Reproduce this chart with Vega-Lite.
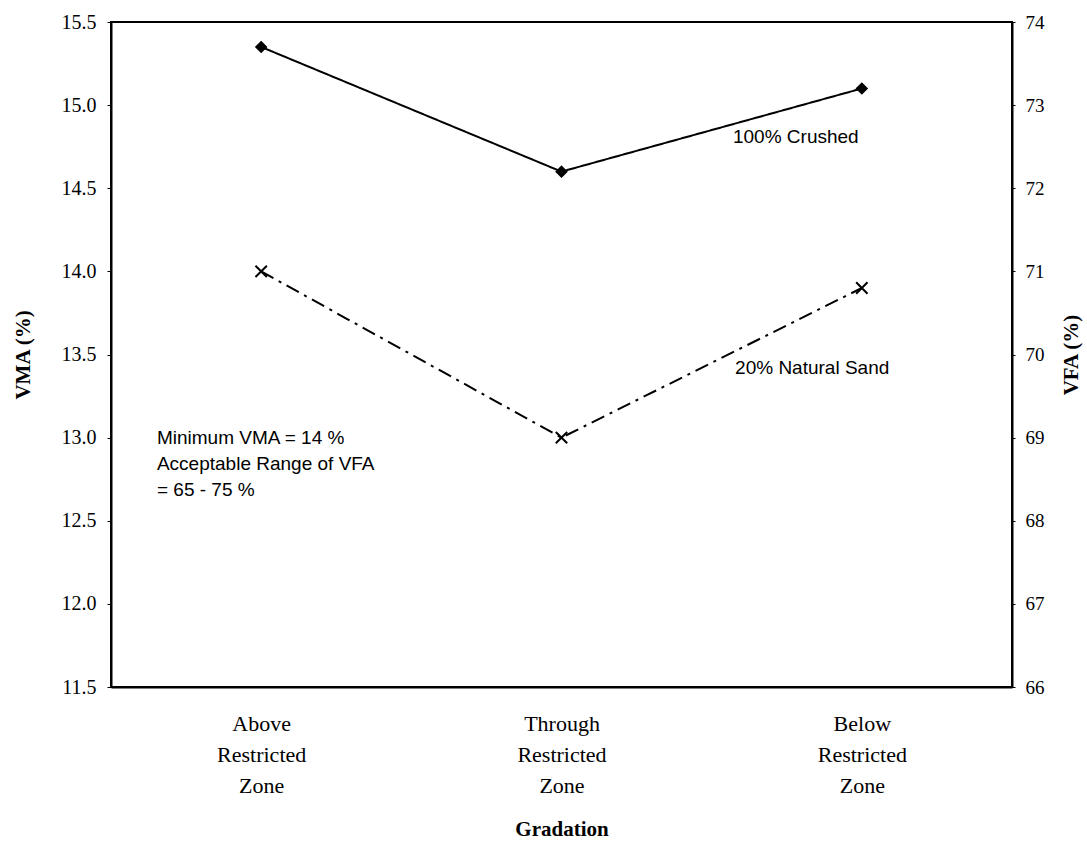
{
  "$schema": "https://vega.github.io/schema/vega-lite/v6.json",
  "width": 901,
  "height": 665,
  "autosize": {"type": "none"},
  "padding": {"left": 111, "top": 22, "right": 75, "bottom": 161},
  "background": "white",
  "config": {
    "view": {"stroke": "black", "strokeWidth": 2},
    "axis": {"grid": false, "domainColor": "black", "domainWidth": 2, "tickColor": "black", "labelColor": "black", "titleColor": "black"}
  },
  "datasets": {
    "series": [
      {"gradation": "Above Restricted Zone", "pos": 1, "series": "100% Crushed", "vma": 15.35},
      {"gradation": "Through Restricted Zone", "pos": 2, "series": "100% Crushed", "vma": 14.6},
      {"gradation": "Below Restricted Zone", "pos": 3, "series": "100% Crushed", "vma": 15.1},
      {"gradation": "Above Restricted Zone", "pos": 1, "series": "20% Natural Sand", "vma": 14.0},
      {"gradation": "Through Restricted Zone", "pos": 2, "series": "20% Natural Sand", "vma": 13.0},
      {"gradation": "Below Restricted Zone", "pos": 3, "series": "20% Natural Sand", "vma": 13.9}
    ],
    "notes": [
      {"label": "100% Crushed", "nx": 2.571, "ny": 14.81},
      {"label": "20% Natural Sand", "nx": 2.578, "ny": 13.42},
      {"label": "Minimum VMA = 14 %\nAcceptable Range of VFA\n= 65 - 75 %", "nx": 0.653, "ny": 13.0}
    ]
  },
  "data": {"name": "series"},
  "layer": [
    {
      "layer": [
        {
          "mark": {"type": "line", "color": "black", "strokeWidth": 2},
          "encoding": {
            "x": {"field": "pos", "type": "quantitative", "scale": {"domain": [0.5, 3.5], "nice": false, "zero": false},
              "axis": {"values": [1, 2, 3], "labelExpr": "datum.value == 1 ? ['Above','Restricted','Zone'] : datum.value == 2 ? ['Through','Restricted','Zone'] : ['Below','Restricted','Zone']",
                "labelFont": "Liberation Serif", "labelFontSize": 22, "labelLineHeight": 31, "tickSize": 0, "labelPadding": 26, "labelBaseline": "top",
                "title": "Gradation", "titleFont": "Liberation Serif", "titleFontSize": 21, "titleFontWeight": "bold", "titlePadding": 22}},
            "y": {"field": "vma", "type": "quantitative", "scale": {"domain": [11.5, 15.5], "nice": false, "zero": false},
              "axis": {"values": [11.5, 12, 12.5, 13, 13.5, 14, 14.5, 15, 15.5], "format": ".1f", "labelFont": "Liberation Serif", "labelFontSize": 20,
                "tickSize": 4, "labelPadding": 11, "title": "VMA (%)", "titleFont": "Liberation Serif", "titleFontSize": 21, "titleFontWeight": "bold", "titlePadding": 28}},
            "strokeDash": {"field": "series", "type": "nominal", "scale": {"domain": ["100% Crushed", "20% Natural Sand"], "range": [[1, 0], [14, 6, 3, 6]]}, "legend": null}
          }
        },
        {
          "mark": {"type": "point", "stroke": "black", "strokeWidth": 2, "opacity": 1, "fillOpacity": 1},
          "encoding": {
            "x": {"field": "pos", "type": "quantitative"},
            "y": {"field": "vma", "type": "quantitative"},
            "shape": {"field": "series", "type": "nominal", "scale": {"domain": ["100% Crushed", "20% Natural Sand"], "range": ["diamond", "M-1,-1L1,1M1,-1L-1,1"]}, "legend": null},
            "fill": {"field": "series", "type": "nominal", "scale": {"domain": ["100% Crushed", "20% Natural Sand"], "range": ["black", "transparent"]}, "legend": null},
            "size": {"field": "series", "type": "nominal", "scale": {"domain": ["100% Crushed", "20% Natural Sand"], "range": [95, 130]}, "legend": null}
          }
        },
        {
          "data": {"name": "notes"},
          "mark": {"type": "text", "align": "left", "baseline": "middle", "font": "Liberation Sans", "fontSize": 19, "lineBreak": "\n", "lineHeight": 26, "color": "black"},
          "encoding": {
            "x": {"field": "nx", "type": "quantitative"},
            "y": {"field": "ny", "type": "quantitative"},
            "text": {"field": "label"}
          }
        }
      ]
    },
    {
      "mark": {"type": "point", "opacity": 0},
      "encoding": {
        "y": {"datum": 70, "type": "quantitative", "scale": {"domain": [66, 74], "nice": false, "zero": false},
          "axis": {"orient": "right", "values": [66, 67, 68, 69, 70, 71, 72, 73, 74], "labelFont": "Liberation Serif", "labelFontSize": 19,
            "tickSize": 3, "labelPadding": 10, "title": "VFA (%)", "titleAngle": 270, "titleBaseline": "top", "titleFont": "Liberation Serif", "titleFontSize": 21, "titleFontWeight": "bold", "titlePadding": 16}}
      }
    }
  ],
  "resolve": {"scale": {"y": "independent"}}
}
